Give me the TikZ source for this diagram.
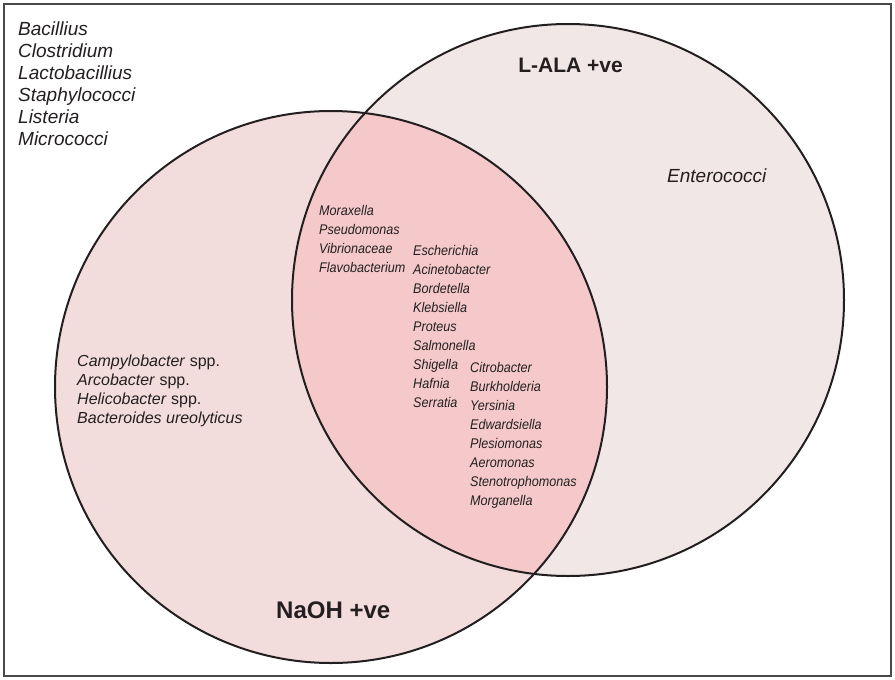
\documentclass[tikz,border=0pt]{standalone}
\usepackage{fontspec}
\setmainfont{Liberation Sans}
\newfontfamily\narrowfont[FakeStretch=0.9]{Liberation Sans}

\definecolor{naohfill}{HTML}{F2DCDC}
\definecolor{alafill}{HTML}{F2E7E7}
\definecolor{bothfill}{HTML}{F5C9C9}
\definecolor{inkline}{HTML}{231F20}
\definecolor{framegray}{HTML}{4A4A4A}

\begin{document}
\begin{tikzpicture}[x=1pt,y=-1pt,
  ring/.style={draw=inkline,line width=2pt},
  outerframe/.style={draw=framegray,line width=1.5pt},
  label/.style={anchor=base west,inner sep=0pt,text=inkline},
  biglist/.style={label,font=\itshape\fontsize{19}{22}\selectfont},
  sidelist/.style={label,font=\fontsize{16}{19}\selectfont},
  lenslist/.style={label,font=\narrowfont\itshape\fontsize{14}{19}\selectfont},
  setname/.style={label,font=\bfseries\fontsize{24}{28}\selectfont}]
\useasboundingbox (0,0) rectangle (895,680);

% the two test sets and their overlap
\coordinate (naoh) at (331,387);
\coordinate (ala) at (568,300);
\fill[naohfill] (naoh) circle[radius=276];
\fill[alafill] (ala) circle[radius=276];
\begin{scope}
  \clip (naoh) circle[radius=276];
  \fill[bothfill] (ala) circle[radius=276];
\end{scope}
\draw[ring] (naoh) circle[radius=276];
\draw[ring] (ala) circle[radius=276];
\draw[outerframe] (4,4) rectangle (891,676);

% set names
\node[setname,anchor=base east,font=\bfseries\fontsize{21}{25}\selectfont] (alaname) at (623,72) {L-ALA +ve};
\node[setname] (naohname) at (276,618) {NaOH +ve};

% negative for both tests
\foreach \g [count=\i] in {Bacillius,Clostridium,Lactobacillius,Staphylococci,Listeria,Micrococci}
  \node[biglist] (neither-\i) at (18,{35+22*(\i-1)}) {\g};

% L-ALA only
\node[biglist] (alaonly) at (667,182) {Enterococci};

% NaOH only
\foreach \g [count=\i] in {\textit{Campylobacter} spp.,\textit{Arcobacter} spp.,\textit{Helicobacter} spp.,\textit{Bacteroides ureolyticus}}
  \node[sidelist] (naohonly-\i) at (77,{366.7+19*(\i-1)}) {\g};

% positive for both tests
\foreach \g [count=\i] in {Moraxella,Pseudomonas,Vibrionaceae,Flavobacterium}
  \node[lenslist] (bothA-\i) at (319,{215+19.3*(\i-1)}) {\g};
\foreach \g [count=\i] in {Escherichia,Acinetobacter,Bordetella,Klebsiella,Proteus,Salmonella,Shigella,Hafnia,Serratia}
  \node[lenslist] (bothB-\i) at (413,{255+19.1*(\i-1)}) {\g};
\foreach \g [count=\i] in {Citrobacter,Burkholderia,Yersinia,Edwardsiella,Plesiomonas,Aeromonas,Stenotrophomonas,Morganella}
  \node[lenslist] (bothC-\i) at (470,{372.5+19.05*(\i-1)}) {\g};
\end{tikzpicture}
\end{document}
